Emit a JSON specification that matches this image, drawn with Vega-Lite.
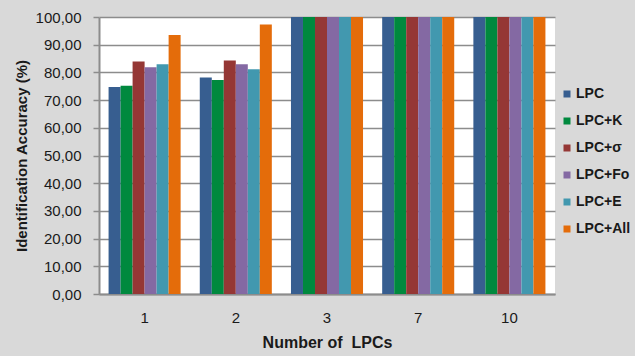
{
  "$schema": "https://vega.github.io/schema/vega-lite/v6.json",
  "autosize": "none",
  "width": 456,
  "height": 277,
  "padding": {"left": 99, "top": 17, "right": 80, "bottom": 62},
  "background": "#d9d9d9",
  "config": {
    "font": "Liberation Sans",
    "view": {"fill": "white", "stroke": null}
  },
  "data": {
    "values": [
      {"n": "1", "series": "LPC", "acc": 74.7},
      {"n": "1", "series": "LPC+K", "acc": 75.2},
      {"n": "1", "series": "LPC+σ", "acc": 83.9},
      {"n": "1", "series": "LPC+Fo", "acc": 81.9},
      {"n": "1", "series": "LPC+E", "acc": 82.9},
      {"n": "1", "series": "LPC+All", "acc": 93.5},
      {"n": "2", "series": "LPC", "acc": 78.2},
      {"n": "2", "series": "LPC+K", "acc": 77.3},
      {"n": "2", "series": "LPC+σ", "acc": 84.3},
      {"n": "2", "series": "LPC+Fo", "acc": 82.9},
      {"n": "2", "series": "LPC+E", "acc": 81.1},
      {"n": "2", "series": "LPC+All", "acc": 97.3},
      {"n": "3", "series": "LPC", "acc": 100},
      {"n": "3", "series": "LPC+K", "acc": 100},
      {"n": "3", "series": "LPC+σ", "acc": 100},
      {"n": "3", "series": "LPC+Fo", "acc": 100},
      {"n": "3", "series": "LPC+E", "acc": 100},
      {"n": "3", "series": "LPC+All", "acc": 100},
      {"n": "7", "series": "LPC", "acc": 100},
      {"n": "7", "series": "LPC+K", "acc": 100},
      {"n": "7", "series": "LPC+σ", "acc": 100},
      {"n": "7", "series": "LPC+Fo", "acc": 100},
      {"n": "7", "series": "LPC+E", "acc": 100},
      {"n": "7", "series": "LPC+All", "acc": 100},
      {"n": "10", "series": "LPC", "acc": 100},
      {"n": "10", "series": "LPC+K", "acc": 100},
      {"n": "10", "series": "LPC+σ", "acc": 100},
      {"n": "10", "series": "LPC+Fo", "acc": 100},
      {"n": "10", "series": "LPC+E", "acc": 100},
      {"n": "10", "series": "LPC+All", "acc": 100}
    ]
  },
  "mark": {"type": "bar"},
  "encoding": {
    "x": {
      "field": "n",
      "type": "ordinal",
      "sort": ["1", "2", "3", "7", "10"],
      "scale": {"paddingInner": 0.21, "paddingOuter": 0.105},
      "axis": {
        "title": "Number of\u00a0 LPCs",
        "titleFont": "Liberation Sans",
        "titleFontSize": 16,
        "titleFontWeight": "bold",
        "titleColor": "#1a1a1a",
        "titlePadding": 9,
        "labelAngle": 0,
        "labelFontSize": 15,
        "labelColor": "#1a1a1a",
        "labelPadding": 16,
        "ticks": false,
        "domainColor": "#8c8c8c",
        "domainWidth": 2
      }
    },
    "xOffset": {
      "field": "series",
      "type": "nominal",
      "sort": ["LPC", "LPC+K", "LPC+σ", "LPC+Fo", "LPC+E", "LPC+All"],
      "scale": {"paddingInner": 0, "paddingOuter": 0}
    },
    "y": {
      "field": "acc",
      "type": "quantitative",
      "scale": {"domain": [0, 100], "nice": false},
      "axis": {
        "title": "Identification Accuracy (%)",
        "titleFontSize": 15,
        "titleFontWeight": "bold",
        "titleColor": "#1a1a1a",
        "titlePadding": 6,
        "values": [0, 10, 20, 30, 40, 50, 60, 70, 80, 90, 100],
        "labelExpr": "replace(format(datum.value, '.2f'), '.', ',')",
        "labelFontSize": 15,
        "labelColor": "#1a1a1a",
        "labelPadding": 12,
        "tickSize": 6,
        "tickColor": "#8c8c8c",
        "tickWidth": 1.5,
        "domainColor": "#8c8c8c",
        "domainWidth": 2,
        "grid": true,
        "gridColor": "#8c8c8c",
        "gridWidth": 1.5
      }
    },
    "color": {
      "field": "series",
      "type": "nominal",
      "sort": ["LPC", "LPC+K", "LPC+σ", "LPC+Fo", "LPC+E", "LPC+All"],
      "scale": {
        "domain": ["LPC", "LPC+K", "LPC+σ", "LPC+Fo", "LPC+E", "LPC+All"],
        "range": ["#375E90", "#00893E", "#953735", "#8469A3", "#4298AF", "#E46C0A"]
      },
      "legend": {
        "title": null,
        "orient": "none",
        "legendX": 461,
        "legendY": 70,
        "padding": 0,
        "symbolType": "square",
        "symbolSize": 49,
        "symbolStrokeWidth": 0,
        "labelFontSize": 14,
        "labelFontWeight": "bold",
        "labelColor": "#1a1a1a",
        "labelOffset": 2,
        "labelLimit": 200,
        "rowPadding": 13
      }
    }
  }
}
